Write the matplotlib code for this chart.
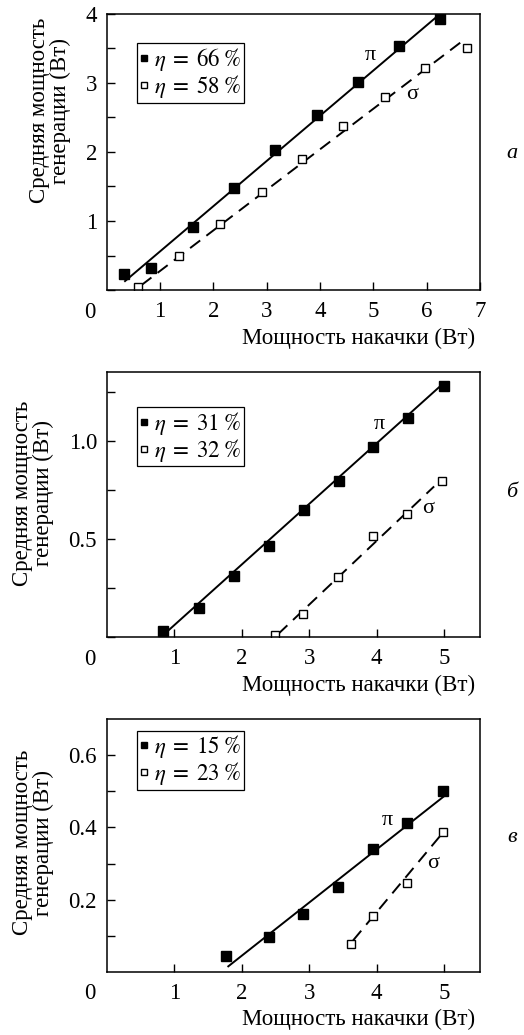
import matplotlib
matplotlib.use('Agg')
import matplotlib.pyplot as plt
from matplotlib.ticker import MultipleLocator

plt.rcParams['font.family'] = ['Liberation Serif', 'DejaVu Serif']
plt.rcParams['mathtext.fontset'] = 'stix'
plt.rcParams['font.size'] = 16

# panel a
a_pi_x = [0.33, 0.84, 1.61, 2.39, 3.16, 3.94, 4.71, 5.49, 6.25]
a_pi_y = [0.23, 0.32, 0.92, 1.48, 2.03, 2.53, 3.02, 3.53, 3.93]
a_sig_x = [0.58, 1.36, 2.12, 2.91, 3.67, 4.44, 5.22, 5.97, 6.75]
a_sig_y = [0.04, 0.50, 0.96, 1.42, 1.90, 2.37, 2.79, 3.22, 3.51]
a_fit_pi = ([0.33, 6.25], [0.12, 4.0])
a_fit_sig = ([0.65, 6.69], [0.07, 3.62])

# panel b
b_pi_x = [0.84, 1.37, 1.89, 2.40, 2.92, 3.44, 3.95, 4.47, 4.99]
b_pi_y = [0.034, 0.148, 0.311, 0.464, 0.650, 0.798, 0.973, 1.121, 1.282]
b_sig_x = [2.50, 2.91, 3.43, 3.95, 4.45, 4.97]
b_sig_y = [0.012, 0.119, 0.306, 0.519, 0.629, 0.798]
b_fit_pi = ([0.80, 5.0], [0.0, 1.30])
b_fit_sig = ([2.54, 4.85], [0.017, 0.77])

# panel c
c_pi_x = [1.77, 2.40, 2.91, 3.42, 3.94, 4.45, 4.98]
c_pi_y = [0.046, 0.099, 0.161, 0.237, 0.341, 0.411, 0.500]
c_sig_x = [3.62, 3.94, 4.45, 4.98]
c_sig_y = [0.079, 0.155, 0.248, 0.387]
c_fit_pi = ([1.79, 5.0], [0.016, 0.486])
c_fit_sig = ([3.65, 4.96], [0.089, 0.381])

panels = [
    dict(pos=[0.2036, 0.7198, 0.7125, 0.2667], xlim=(0, 7), ylim=(0, 4),
         xticks=[1, 2, 3, 4, 5, 6, 7], ymaj=1, ymin=0.5, yfmt='%d',
         pi=(a_pi_x, a_pi_y), sig=(a_sig_x, a_sig_y), fpi=a_fit_pi, fsig=a_fit_sig,
         eta=('66', '58'), leg_top=0.894, pi_lbl=(4.94, 3.4), sig_lbl=(5.72, 2.83),
         ylab=(-0.152, 0.65), letter='a', letter_y=153),
    dict(pos=[0.2036, 0.3842, 0.7125, 0.2566], xlim=(0, 5.53), ylim=(0, 1.355),
         xticks=[1, 2, 3, 4, 5], ymaj=0.5, ymin=0.25, yfmt='%.1f',
         pi=(b_pi_x, b_pi_y), sig=(b_sig_x, b_sig_y), fpi=b_fit_pi, fsig=b_fit_sig,
         eta=('31', '32'), leg_top=0.868, pi_lbl=(4.04, 1.088), sig_lbl=(4.76, 0.655),
         ylab=(-0.197, 0.543), letter='б', letter_y=492),
    dict(pos=[0.2036, 0.0612, 0.7125, 0.2441], xlim=(0, 5.53), ylim=(0.003, 0.698),
         xticks=[1, 2, 3, 4, 5], ymaj=0.2, ymin=0.1, yfmt='%.1f',
         pi=(c_pi_x, c_pi_y), sig=(c_sig_x, c_sig_y), fpi=c_fit_pi, fsig=c_fit_sig,
         eta=('15', '23'), leg_top=0.954, pi_lbl=(4.15, 0.42), sig_lbl=(4.84, 0.30),
         ylab=(-0.197, 0.51), letter='в', letter_y=838),
]

fig = plt.figure(figsize=(5.24, 10.35), dpi=100)

for p in panels:
    ax = fig.add_axes(p['pos'])
    ax.set_xlim(*p['xlim'])
    ax.set_ylim(*p['ylim'])
    for s in ax.spines.values():
        s.set_linewidth(1.1)

    ax.plot(*p['fpi'], color='black', lw=1.4, solid_capstyle='butt')
    ax.plot(*p['fsig'], color='black', lw=1.4, dashes=(6.5, 4))
    ax.plot(*p['pi'], 's', color='black', ms=6.5, ls='none',
            label=r'$\eta\;=\;%s\;\%%$' % p['eta'][0])
    ax.plot(*p['sig'], 's', mfc='white', mec='black', mew=1.0, ms=5.5, ls='none',
            label=r'$\eta\;=\;%s\;\%%$' % p['eta'][1])

    ax.text(*p['pi_lbl'], 'π', ha='center', va='center', fontsize=16)
    ax.text(*p['sig_lbl'], 'σ', ha='center', va='center', fontsize=16)

    ax.set_xticks(p['xticks'])
    ax.yaxis.set_major_locator(MultipleLocator(p['ymaj']))
    ax.yaxis.set_minor_locator(MultipleLocator(p['ymin']))
    ax.tick_params(axis='both', which='both', direction='in', length=6, width=1.0,
                   top=False, right=False, labelsize=16.5)
    ax.tick_params(axis='x', pad=8)
    ax.tick_params(axis='y', pad=7)
    # zero is drawn once at the corner instead of on each axis
    yt = [t for t in ax.get_yticks() if t > 0.01 and t <= p['ylim'][1] + 1e-9]
    ax.set_yticks(yt)
    ax.set_yticklabels([p['yfmt'] % t for t in yt])

    ax.annotate('0', xy=(0, 0), xycoords='axes fraction', xytext=(-12.5, -16),
                textcoords='offset points', ha='center', va='center', fontsize=16.5)
    ax.annotate('Мощность накачки (Вт)', xy=(1, 0), xycoords='axes fraction',
                xytext=(-3.5, -34.5), textcoords='offset points',
                ha='right', va='center', fontsize=16.5)
    ax.text(p['ylab'][0], p['ylab'][1], 'Средняя мощность\nгенерации (Вт)',
            transform=ax.transAxes, rotation=90, ha='center', va='center',
            multialignment='center', fontsize=16.5, linespacing=0.95)

    leg = ax.legend(loc='upper left', bbox_to_anchor=(0.08, p['leg_top']),
                    handlelength=0.4, handletextpad=0.25, borderpad=0.12,
                    labelspacing=0.0, fancybox=False, framealpha=1,
                    edgecolor='black', fontsize=16.5, borderaxespad=0,
                    markerscale=0.75)
    leg.get_frame().set_linewidth(0.9)

    fig.text(512 / 524, 1 - p['letter_y'] / 1035, p['letter'], style='italic',
             ha='center', va='center', fontsize=16)

fig.savefig('out.png', dpi=100)
